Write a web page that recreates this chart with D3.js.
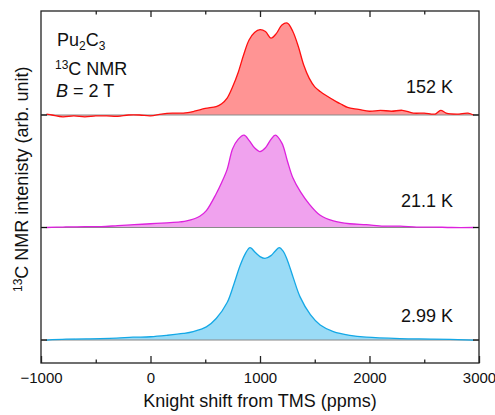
<!DOCTYPE html>
<html><head><meta charset="utf-8">
<script src="https://cdn.jsdelivr.net/npm/d3@7"></script>
<style>body{margin:0;background:#fff}svg{display:block;font-family:"Liberation Sans",Arial,sans-serif}</style>
</head><body><svg id="c" width="495" height="415"></svg>
<script>
// ---- data ----
const xTicks = [-1000, 0, 1000, 2000, 3000];
const xMinorTicks = [-500, 500, 1500, 2500];
const tempLabels = ["152 K", "21.1 K", "2.99 K"];
const offsets = [2.4, 1.2, 0];

const shift152 = [-950,-900,-800,-700,-600,-500,-400,-300,-200,-100,0,100,200,300,400,500,600,650,700,750,800,850,900,950,1000,1050,1100,1150,1200,1250,1300,1350,1400,1450,1500,1550,1600,1700,1750,1800,1900,2000,2100,2200,2300,2400,2500,2600,2650,2700,2800,2900,2950];
const int152 = [0.01,0.0,-0.02,-0.01,-0.02,-0.01,-0.01,-0.015,0,0,-0.01,0.01,0.02,0.02,0.04,0.07,0.09,0.12,0.18,0.30,0.45,0.64,0.80,0.88,0.91,0.89,0.82,0.87,0.96,0.98,0.89,0.73,0.53,0.39,0.30,0.25,0.21,0.14,0.11,0.08,0.06,0.04,0.05,0.04,0.05,0.02,0.02,0.01,0.05,0.02,0.01,0.02,0.0];

const shift21 = [-950,-800,-600,-450,-300,-150,0,150,270,330,450,510,600,650,700,750,800,854,900,950,1000,1050,1100,1140,1200,1250,1300,1370,1450,1550,1670,1820,1970,2130,2280,2430,2580,2750,2950];
const int21 = [0,0.005,0.01,0.01,0.02,0.03,0.04,0.05,0.06,0.07,0.12,0.18,0.36,0.48,0.62,0.84,0.94,0.985,0.93,0.85,0.81,0.85,0.94,0.985,0.90,0.71,0.53,0.38,0.25,0.13,0.07,0.04,0.03,0.015,0.015,0.005,0.005,0,0];

const shift3 = [-950,-770,-460,-310,-160,0,150,300,390,510,600,700,760,820,870,909,960,1000,1046,1100,1140,1176,1210,1244,1305,1366,1460,1550,1670,1820,1970,2280,2580,2950];
const int3 = [0,0.01,0.015,0.02,0.03,0.035,0.05,0.07,0.09,0.14,0.23,0.40,0.59,0.80,0.93,0.985,0.93,0.89,0.87,0.90,0.95,0.985,0.95,0.87,0.66,0.46,0.27,0.16,0.09,0.05,0.03,0.015,0.01,0];

const strokeColors = ["#ff1010", "#dd22dd", "#14a8e6"];
const fillColors = ["#ff9494", "#f0a2ee", "#9adbf6"];

// ---- layout ----
const L = 41, R = 479, T = 11, B = 363;
const svg = d3.select("#c");
const x = d3.scaleLinear().domain([-1000, 3000]).range([L, R]);
const y = d3.scaleLinear().domain([-0.245, 3.509]).range([B, T]);

const series = [
  {sx: shift152, iv: int152},
  {sx: shift21, iv: int21},
  {sx: shift3, iv: int3}
];

series.forEach((s, i) => {
  const off = offsets[i];
  const pts = s.sx.map((v, k) => [v, s.iv[k]]);
  const area = d3.area().x(d => x(d[0])).y0(y(off)).y1(d => y(off + d[1])).curve(d3.curveCatmullRom.alpha(0.5));
  const line = d3.line().x(d => x(d[0])).y(d => y(off + d[1])).curve(d3.curveCatmullRom.alpha(0.5));
  svg.append("path").attr("d", area(pts)).attr("fill", fillColors[i]).attr("stroke", "none");
  svg.append("line").attr("x1", L).attr("x2", R).attr("y1", y(off)).attr("y2", y(off))
    .attr("stroke", "#8a8a8a").attr("stroke-width", 1);
  svg.append("path").attr("d", line(pts)).attr("fill", "none").attr("stroke", strokeColors[i]).attr("stroke-width", 1.3);
  svg.append("line").attr("x1", L).attr("x2", L + 6).attr("y1", y(off)).attr("y2", y(off)).attr("stroke", "#111").attr("stroke-width", 1.3);
  svg.append("line").attr("x1", R - 6).attr("x2", R).attr("y1", y(off)).attr("y2", y(off)).attr("stroke", "#111").attr("stroke-width", 1.3);
  svg.append("text").attr("x", 453).attr("y", y(off) - [21.7, 20.8, 17.7][i]).attr("text-anchor", "end")
    .attr("font-size", 18).attr("fill", "#111").text(tempLabels[i]);
});

// frame
svg.append("rect").attr("x", L).attr("y", T).attr("width", R - L).attr("height", B - T)
  .attr("fill", "none").attr("stroke", "#222").attr("stroke-width", 1.3);

// bottom axis
const bAxis = d3.axisBottom(x).tickValues(xTicks).tickSize(-7).tickPadding(0)
  .tickFormat(d => d < 0 ? "\u2212" + Math.abs(d) : d);
const gb = svg.append("g").attr("transform", `translate(0,${B})`).call(bAxis);
gb.select(".domain").remove();
gb.selectAll(".tick line").attr("stroke", "#222").attr("stroke-width", 1.3);
gb.selectAll(".tick text").attr("font-size", 15).attr("fill", "#111").attr("font-family", "Liberation Sans, Arial, sans-serif").attr("y", 0).attr("dy", "20");
const bMinor = d3.axisBottom(x).tickValues(xMinorTicks).tickSize(-3.5).tickFormat("");
const gbm = svg.append("g").attr("transform", `translate(0,${B})`).call(bMinor);
gbm.select(".domain").remove();
gbm.selectAll(".tick line").attr("stroke", "#222").attr("stroke-width", 1.3);

// top axis
const tAxis = d3.axisTop(x).tickValues(xTicks.slice(1, 4)).tickSize(-6).tickFormat("");
const gt = svg.append("g").attr("transform", `translate(0,${T})`).call(tAxis);
gt.select(".domain").remove();
gt.selectAll(".tick line").attr("stroke", "#222").attr("stroke-width", 1.3);
const tMinor = d3.axisTop(x).tickValues(xMinorTicks).tickSize(-3.5).tickFormat("");
const gtm = svg.append("g").attr("transform", `translate(0,${T})`).call(tMinor);
gtm.select(".domain").remove();
gtm.selectAll(".tick line").attr("stroke", "#222").attr("stroke-width", 1.3);

// axis titles
svg.append("text").attr("x", (L + R) / 2).attr("y", 406.5).attr("text-anchor", "middle")
  .attr("font-size", 18).attr("fill", "#111").text("Knight shift from TMS (ppms)");

const yt = svg.append("text").attr("transform", "translate(28.3,292) rotate(-90)").attr("text-anchor", "start")
  .attr("font-size", 18).attr("fill", "#111");
yt.append("tspan").attr("font-size", 12).attr("dy", -6.5).text("13");
yt.append("tspan").attr("dy", 6.5).text("C NMR intenisty (arb. unit)");

// annotation
const a1 = svg.append("text").attr("x", 57).attr("y", 45.7).attr("font-size", 18).attr("fill", "#111");
a1.append("tspan").text("Pu");
a1.append("tspan").attr("font-size", 12).attr("dy", 4.5).text("2");
a1.append("tspan").attr("dy", -4.5).text("C");
a1.append("tspan").attr("font-size", 12).attr("dy", 4.5).text("3");

const a2 = svg.append("text").attr("x", 55).attr("y", 75).attr("font-size", 18).attr("fill", "#111");
a2.append("tspan").attr("font-size", 12).attr("dy", -6.5).text("13");
a2.append("tspan").attr("dy", 6.5).text("C NMR");

const a3 = svg.append("text").attr("x", 56).attr("y", 97.3).attr("font-size", 18).attr("fill", "#111");
a3.append("tspan").attr("font-style", "italic").text("B");
a3.append("tspan").text(" = 2 T");
</script></body></html>
